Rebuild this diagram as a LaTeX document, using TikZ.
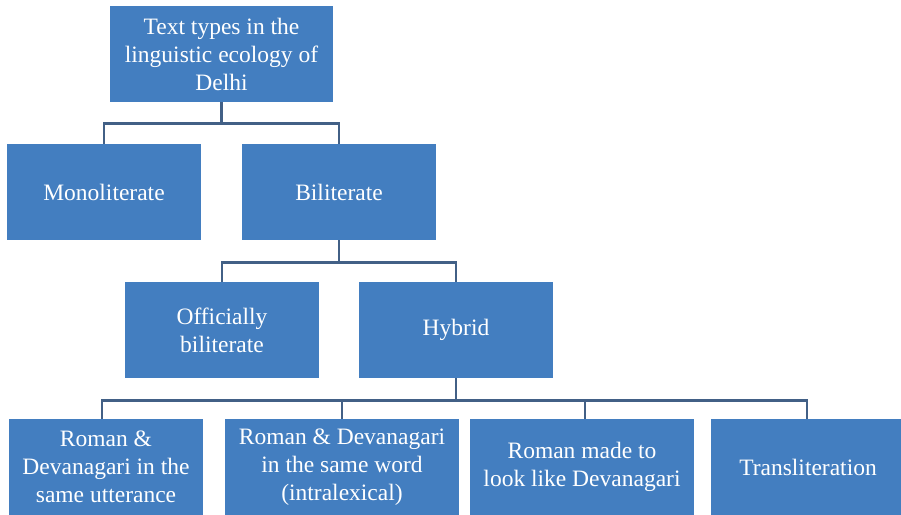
\documentclass[tikz,border=0pt]{standalone}
\usepackage{fontspec}
\setmainfont{Liberation Serif}
\usetikzlibrary{positioning}

\definecolor{boxblue}{RGB}{67,126,192}
\definecolor{linkblue}{RGB}{66,96,134}

\begin{document}
\begin{tikzpicture}[
    x=1pt, y=-1pt,
    textbox/.style={
        fill=boxblue,
        text=white,
        font=\fontsize{23.5}{28}\selectfont,
        align=center,
        inner sep=0pt,
        minimum width=194pt,
        minimum height=96pt
    },
    branch/.style={
        draw=linkblue,
        line width=2.6pt
    }
]
\useasboundingbox (0,0) rectangle (901,514);

% --- Top level -----------------------------------------------------------
\node[textbox, minimum width=223pt] (root) at (221.5, 54)
    {Text types in the\\linguistic ecology of\\Delhi};

% --- Second level --------------------------------------------------------
\node[textbox] (mono) at (104, 192) {Monoliterate};
\node[textbox] (bili) at (339, 192) {Biliterate};

% --- Third level ---------------------------------------------------------
\node[textbox] (offic)  at (222, 330) {Officially\\biliterate};
\node[textbox] (hybrid) at (456, 330) {Hybrid};

% --- Fourth level --------------------------------------------------------
\node[textbox] (utter) at (106, 467)
    {Roman \&\\Devanagari in the\\same utterance};
\node[textbox, minimum width=234pt] (word) at (342, 467)
    {Roman \& Devanagari\\in the same word\\(intralexical)};
\node[textbox, minimum width=224pt] (look) at (582, 467)
    {Roman made to\\look like Devanagari};
\node[textbox] (translit) at (808, 467) {Transliteration};

% --- Connectors ----------------------------------------------------------
\draw[branch] (root.south) -- ++(0,21) -| (mono.north);
\draw[branch] (root.south) -- ++(0,21) -| (bili.north);

\draw[branch] (bili.south) -- ++(0,22) -| (offic.north);
\draw[branch] (bili.south) -- ++(0,22) -| (hybrid.north);

\draw[branch] (hybrid.south) -- ++(0,22) -| ([xshift=-4pt]utter.north);
\draw[branch] (hybrid.south) -- ++(0,22) -| (word.north);
\draw[branch] (hybrid.south) -- ++(0,22) -| ([xshift=3pt]look.north);
\draw[branch] (hybrid.south) -- ++(0,22) -| ([xshift=-1pt]translit.north);

\end{tikzpicture}
\end{document}
